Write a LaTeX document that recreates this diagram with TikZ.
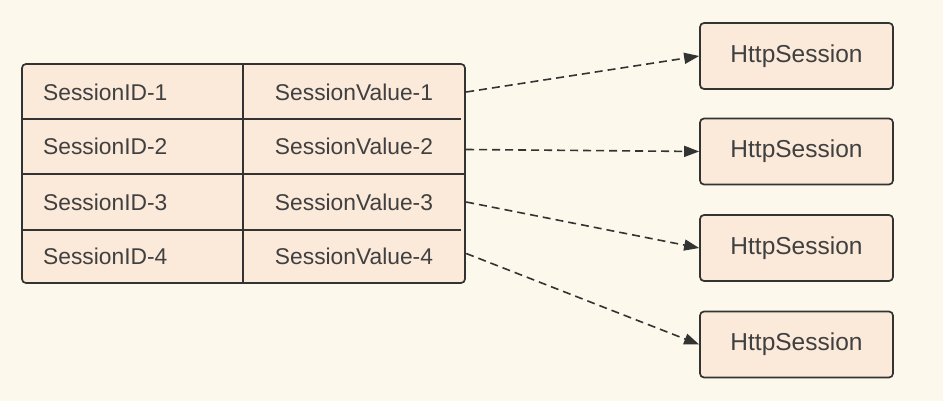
\documentclass[tikz,border=0pt]{standalone}
\usepackage{fontspec}
\setmainfont{Liberation Sans}
\usetikzlibrary{arrows.meta}
\definecolor{bgc}{RGB}{252,248,235}
\definecolor{boxc}{RGB}{251,233,218}
\definecolor{inkc}{RGB}{51,51,51}
\definecolor{txtc}{RGB}{64,64,64}
\begin{document}
\begin{tikzpicture}[x=1pt,y=-1pt,
  cellL/.style={anchor=west,inner sep=0pt,text=txtc,font=\fontsize{22.8}{25}\selectfont},
  cellV/.style={minimum width=222pt,minimum height=55pt,inner sep=0pt,text=txtc,font=\fontsize{22.8}{25}\selectfont},
  hsbox/.style={draw=inkc,line width=1.7pt,fill=boxc,rounded corners=4pt,minimum width=193pt,minimum height=66pt,inner sep=0pt,text=txtc,font=\fontsize{24.5}{27}\selectfont},
  link/.style={draw=inkc,line width=1.6pt,dash pattern=on 8pt off 5pt,-{Triangle[length=15pt,width=11pt]}}]
\fill[bgc] (0,0) rectangle (943,401);
\useasboundingbox (0,0) rectangle (943,401);
% table
\fill[boxc,rounded corners=4pt] (22,64) rectangle (465,283);
\draw[inkc,line width=1.7pt] (243,64) -- (243,283);
\draw[inkc,line width=1.7pt] (22,119) -- (461,119);
\draw[inkc,line width=1.7pt] (22,174) -- (465,174);
\draw[inkc,line width=1.7pt] (22,230) -- (461,230);
\draw[inkc,line width=1.7pt,rounded corners=4pt] (22,64) rectangle (465,283);
\node[cellL] (k1) at (43,92) {SessionID-1};
\node[cellL] (k2) at (43,146.5) {SessionID-2};
\node[cellL] (k3) at (43,202) {SessionID-3};
\node[cellL] (k4) at (43,256.5) {SessionID-4};
\node[cellV] (v1) at (354,92) {SessionValue-1};
\node[cellV] (v2) at (354,146.5) {SessionValue-2};
\node[cellV] (v3) at (354,202) {SessionValue-3};
\node[cellV] (v4) at (354,256.5) {SessionValue-4};
% sessions
\node[hsbox] (h1) at (796.5,56) {HttpSession};
\node[hsbox] (h2) at (796.5,151.5) {HttpSession};
\node[hsbox] (h3) at (796.5,248) {HttpSession};
\node[hsbox] (h4) at (796.5,344.5) {HttpSession};
\draw[link] ([xshift=1pt]v1.east) -- (h1.west);
\draw[link] ([xshift=1pt,yshift=-3pt]v2.east) -- (h2.west);
\draw[link] ([xshift=1pt]v3.east) -- (h3.west);
\draw[link] ([xshift=1pt,yshift=3pt]v4.east) -- (h4.west);
\end{tikzpicture}
\end{document}
